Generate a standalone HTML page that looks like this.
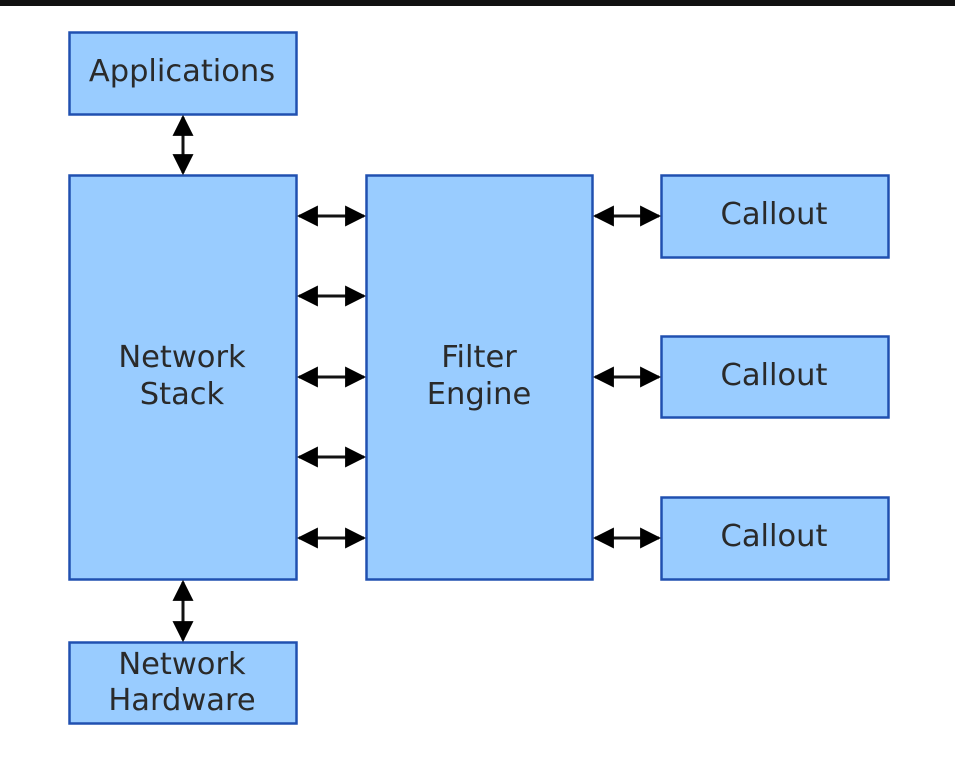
<!DOCTYPE html>
<html><head><style>
html,body{margin:0;padding:0;background:#fff;width:955px;height:771px;overflow:hidden}
</style></head><body>
<svg width="955" height="771" viewBox="0 0 955 771" xmlns="http://www.w3.org/2000/svg">
<defs>
<marker id="a" viewBox="0 0 10 10" refX="9" refY="5" markerWidth="7" markerHeight="7" orient="auto-start-reverse" markerUnits="strokeWidth">
<path d="M0,0 L10,5 L0,10 z" fill="#000"/></marker>
</defs>
<rect x="0" y="0" width="955" height="6" fill="#111"/>
<g fill="#99ccff" stroke="#2050b0" stroke-width="2.5">
<rect x="69.5" y="32.5" width="227" height="82"/>
<rect x="69.5" y="175.5" width="227" height="404"/>
<rect x="366.5" y="175.5" width="226" height="404"/>
<rect x="661.5" y="175.5" width="227" height="82"/>
<rect x="661.5" y="336.5" width="227" height="81"/>
<rect x="661.5" y="497.5" width="227" height="82"/>
<rect x="69.5" y="642.5" width="227" height="81"/>
</g>
<g stroke="#111" stroke-width="3" marker-start="url(#a)" marker-end="url(#a)">
<line x1="183" y1="117" x2="183" y2="173"/>
<line x1="183" y1="582" x2="183" y2="640"/>
<line x1="299" y1="216" x2="364" y2="216"/>
<line x1="299" y1="296" x2="364" y2="296"/>
<line x1="299" y1="377" x2="364" y2="377"/>
<line x1="299" y1="457" x2="364" y2="457"/>
<line x1="299" y1="538" x2="364" y2="538"/>
<line x1="595" y1="216" x2="659" y2="216"/>
<line x1="595" y1="377" x2="659" y2="377"/>
<line x1="595" y1="538" x2="659" y2="538"/>
</g>
<g font-family="DejaVu Sans, Liberation Sans, sans-serif" font-size="30.5" fill="#2a2a2a" text-anchor="middle">
<text x="182" y="81">Applications</text>
<text x="182" y="367">Network</text>
<text x="182" y="404">Stack</text>
<text x="479" y="367">Filter</text>
<text x="479" y="404">Engine</text>
<text x="774" y="224">Callout</text>
<text x="774" y="385">Callout</text>
<text x="774" y="546">Callout</text>
<text x="182" y="674">Network</text>
<text x="182" y="710">Hardware</text>
</g>
</svg>
</body></html>
